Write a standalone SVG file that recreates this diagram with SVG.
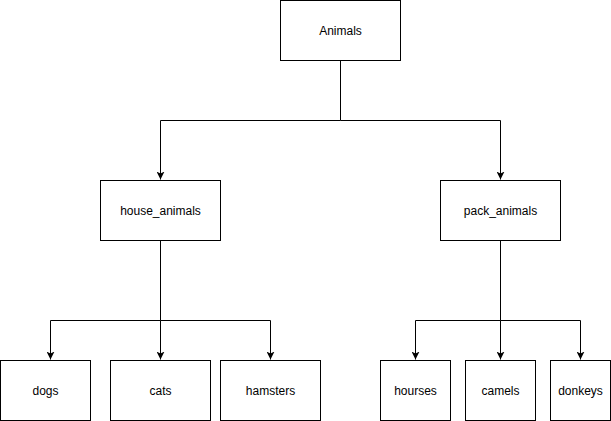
<svg xmlns="http://www.w3.org/2000/svg" width="611" height="421" viewBox="0 0 611 421">
<style>
.box{fill:#fff;stroke:#000;stroke-width:1}
.lbl{font-family:"Liberation Sans",Arial,sans-serif;font-size:12px;fill:#000;text-anchor:middle}
.edge{fill:none;stroke:#000;stroke-width:1}
</style>
<defs>
<marker id="arr" viewBox="0 0 8 8" refX="8" refY="4" markerWidth="8" markerHeight="8" markerUnits="userSpaceOnUse" orient="auto">
<path d="M0,0 L8,4 L0,8 L2,4 Z" fill="#000"/>
</marker>
</defs>
<rect width="611" height="421" fill="#fff"/>
<g id="connectors">
<path class="edge" d="M340.5,60.5 V120.5 H160.5 V179.5" marker-end="url(#arr)"/>
<path class="edge" d="M340.5,120.5 H500.5 V179.5" marker-end="url(#arr)"/>
<path class="edge" d="M160.5,240.5 V320.5 H50.5 V359.5" marker-end="url(#arr)"/>
<path class="edge" d="M160.5,320.5 V359.5" marker-end="url(#arr)"/>
<path class="edge" d="M160.5,320.5 H270.5 V359.5" marker-end="url(#arr)"/>
<path class="edge" d="M500.5,240.5 V320.5 H415.5 V359.5" marker-end="url(#arr)"/>
<path class="edge" d="M500.5,320.5 V359.5" marker-end="url(#arr)"/>
<path class="edge" d="M500.5,320.5 H580.5 V359.5" marker-end="url(#arr)"/>
</g>
<g id="animals"><rect class="box" x="280.5" y="0.5" width="120" height="60"/><text class="lbl" x="340.5" y="34.5">Animals</text></g>
<g id="house_animals"><rect class="box" x="100.5" y="180.5" width="120" height="60"/><text class="lbl" x="160.5" y="214.5">house_animals</text></g>
<g id="pack_animals"><rect class="box" x="440.5" y="180.5" width="120" height="60"/><text class="lbl" x="500.5" y="214.5">pack_animals</text></g>
<g id="dogs"><rect class="box" x="0.5" y="360.5" width="90" height="60"/><text class="lbl" x="45.5" y="394.5">dogs</text></g>
<g id="cats"><rect class="box" x="110.5" y="360.5" width="100" height="60"/><text class="lbl" x="160.5" y="394.5">cats</text></g>
<g id="hamsters"><rect class="box" x="220.5" y="360.5" width="100" height="60"/><text class="lbl" x="270.5" y="394.5">hamsters</text></g>
<g id="hourses"><rect class="box" x="380.5" y="360.5" width="70" height="60"/><text class="lbl" x="415.5" y="394.5">hourses</text></g>
<g id="camels"><rect class="box" x="465.5" y="360.5" width="70" height="60"/><text class="lbl" x="500.5" y="394.5">camels</text></g>
<g id="donkeys"><rect class="box" x="550.5" y="360.5" width="60" height="60"/><text class="lbl" x="580.5" y="394.5">donkeys</text></g>
</svg>
